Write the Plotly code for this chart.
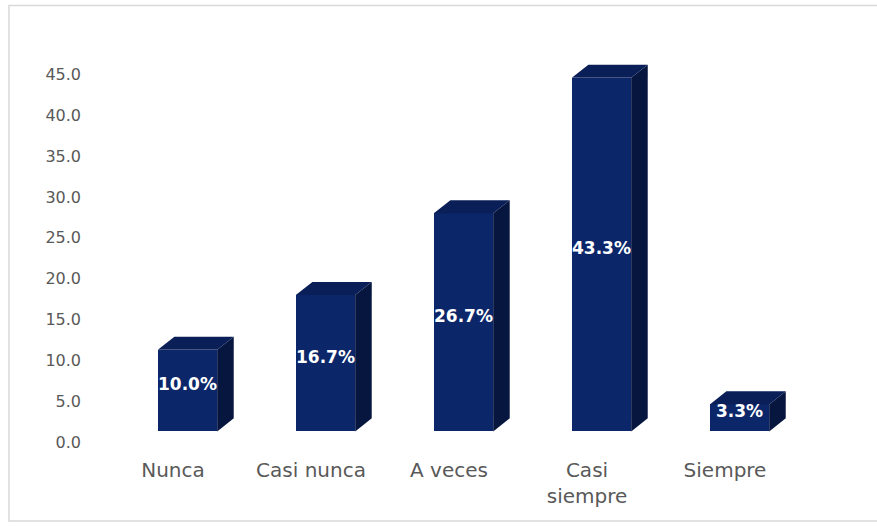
import plotly.graph_objects as go

# Survey response distribution (percent of respondents)
categories = ["Nunca", "Casi nunca", "A veces", "Casi<br>siempre", "Siempre"]
values = [10.0, 16.7, 26.7, 43.3, 3.3]
y_ticks = [0, 5, 10, 15, 20, 25, 30, 35, 40, 45]

# 3D look: front face floats slightly above the floor, with a depth offset
lift = 1.3        # y-units the front face sits above the floor
depth_x = 0.12    # depth offset in category units
depth_y = 1.6     # depth offset in y units
bar_w = 0.43
bar_off = -0.11

front_col = "#0c266a"
side_col = "#06163f"
top_col = "#0a1f58"

xs = list(range(len(categories)))

fig = go.Figure()

# front faces
fig.add_trace(go.Bar(
    x=xs, y=values, base=[lift] * len(values),
    width=bar_w, offset=bar_off,
    marker=dict(color=front_col, line=dict(width=0)),
    hoverinfo="skip", showlegend=False,
))

# side and top faces
for i, v in zip(xs, values):
    L = i + bar_off
    R = L + bar_w
    B = lift
    T = lift + v
    fig.add_trace(go.Scatter(
        x=[R, R + depth_x, R + depth_x, R, R],
        y=[B, B + depth_y, T + depth_y, T, B],
        fill="toself", fillcolor=side_col, mode="lines",
        line=dict(width=0, color=side_col), hoverinfo="skip", showlegend=False,
    ))
    fig.add_trace(go.Scatter(
        x=[L, R, R + depth_x, L + depth_x, L],
        y=[T, T, T + depth_y, T + depth_y, T],
        fill="toself", fillcolor=top_col, mode="lines",
        line=dict(width=0, color=top_col), hoverinfo="skip", showlegend=False,
    ))

# value labels on the front faces
for i, v in zip(xs, values):
    fig.add_annotation(
        x=i + bar_off + bar_w / 2, y=lift + v / 2 + 0.8,
        text=f"<b>{v:.1f}%</b>", showarrow=False,
        font=dict(family="DejaVu Sans, sans-serif", size=17, color="white"),
    )

# light frame around the chart
fig.add_shape(
    type="rect", xref="paper", yref="paper",
    x0=-0.1377, x1=1.14, y0=-0.2018, y1=1.1137,
    line=dict(color="#d9d9d9", width=1.5), fillcolor="rgba(0,0,0,0)", layer="below",
)

fig.update_layout(
    width=877, height=530,
    margin=dict(l=104, r=83, t=50, b=88),
    paper_bgcolor="white", plot_bgcolor="white",
    font=dict(family="DejaVu Sans, sans-serif", color="#595959"),
    bargap=0,
    xaxis=dict(
        range=[-0.5, 4.5], tickmode="array", tickvals=xs, ticktext=categories,
        showgrid=False, zeroline=False, showline=False, ticks="",
        tickfont=dict(size=20, color="#595959"), ticklabelstandoff=14,
    ),
    yaxis=dict(
        range=[0, 48], tickmode="array", tickvals=y_ticks,
        ticktext=[f"{t:.1f}" for t in y_ticks],
        showgrid=False, zeroline=False, showline=False, ticks="",
        tickfont=dict(size=16, color="#595959"), ticklabelstandoff=22,
    ),
)

fig.write_html("out.html")
